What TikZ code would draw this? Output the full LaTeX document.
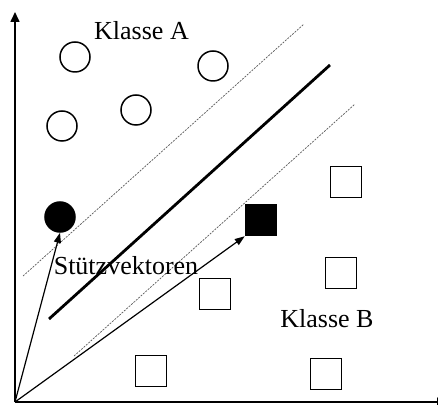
\documentclass[tikz,border=0pt]{standalone}
\usepackage{fontspec}
\setmainfont{Liberation Serif}
\usetikzlibrary{arrows.meta}
\begin{document}
\begin{tikzpicture}[x=0.5pt,y=-0.5pt,
  classA/.style={circle,draw,line width=0.75pt,minimum size=15pt,inner sep=0pt},
  classAsv/.style={classA,fill=black},
  classB/.style={rectangle,draw,line width=0.75pt,minimum size=15.5pt,inner sep=0pt},
  classBsv/.style={classB,fill=black},
  axis/.style={line width=0.8pt,-{Triangle[length=5pt,width=4.5pt]}},
  vec/.style={line width=0.6pt,-{Triangle[length=5pt,width=3.5pt]}},
  margin/.style={line width=0.35pt,gray!70!black,dash pattern=on 1pt off 0.6pt},
  hyper/.style={line width=1.4pt},
  lbl/.style={font=\fontsize{13}{15}\selectfont,anchor=base,inner sep=0pt}]
\useasboundingbox (0,0) rectangle (438,405);
% axes
\coordinate (O) at (15,402);
\coordinate (ytop) at (15,12);
\coordinate (xend) at (447,402);
\draw[axis] (O) -- (ytop);
\draw[axis] (O) -- (xend);
% class A
\node[classA] (a1) at (75,57) {};
\node[classA] (a2) at (213,66) {};
\node[classA] (a3) at (136,110) {};
\node[classA] (a4) at (62,126) {};
\node[classAsv] (sa) at (60,217) {};
% class B
\node[classB] (b1) at (346,182) {};
\node[classBsv] (sb) at (261,220) {};
\node[classB] (b2) at (341,273) {};
\node[classB] (b3) at (215,294) {};
\node[classB] (b4) at (151,371) {};
\node[classB] (b5) at (326,374) {};
% separating lines
\coordinate (h1) at (49,319);
\coordinate (h2) at (330,65);
\coordinate (m1) at (23,276);
\coordinate (m2) at (304,24);
\coordinate (n1) at (74,356);
\coordinate (n2) at (355,104);
\draw[hyper] (h1) -- (h2);
\draw[margin] (m1) -- (m2);
\draw[margin] (n1) -- (n2);
% support vectors
\draw[vec] (O) -- (sa.south);
\draw[vec] (O) -- (sb.south west);
% labels
\node[lbl] (la) at (141.5,40) {Klasse A};
\node[lbl] (lb) at (327,327) {Klasse B};
\node[lbl] (ls) at (126,275) {Stützvektoren};
\end{tikzpicture}
\end{document}
